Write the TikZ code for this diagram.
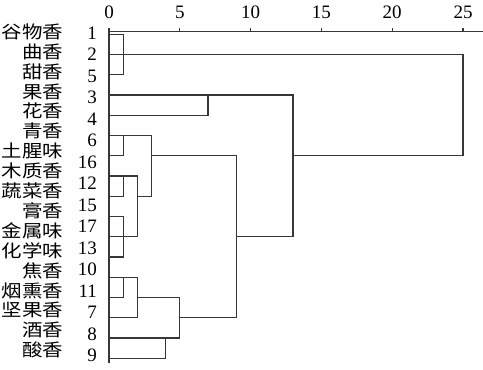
\documentclass[tikz,border=0pt]{standalone}
\usepackage{fontspec}
\setmainfont{Liberation Serif}
\newfontfamily\cjk[FakeStretch=1.17]{Noto Sans CJK SC}
\definecolor{ln}{RGB}{55,55,55}
\begin{document}
\begin{tikzpicture}[x=1pt,y=-1pt,
  dl/.style={draw=ln,line width=1.35pt,line cap=rect},
  num/.style={font=\fontsize{19}{20}\selectfont,inner sep=0pt,anchor=base east},
  cn/.style={font=\cjk\fontsize{17.5}{18}\selectfont,inner sep=0pt,anchor=base east},
  axn/.style={font=\fontsize{19}{20}\selectfont,inner sep=0pt,anchor=base}]
\useasboundingbox (0,0) rectangle (483,370);
% rows
\foreach \i in {0,...,16} \coordinate (r\i) at (109,{34.3+20.25*\i});
% merge distances
\coordinate (Xa) at (123.2,0);
\coordinate (Xb) at (137.3,0);
\coordinate (Xc) at (151.5,0);
\coordinate (Xd) at (165.6,0);
\coordinate (Xe) at (179.8,0);
\coordinate (Xf) at (208.1,0);
\coordinate (Xg) at (236.4,0);
\coordinate (Xh) at (293.1,0);
\coordinate (Xk) at (463,0);
% axis
\coordinate (axL) at (109,31.7);
\coordinate (axR) at (483,31.7);
\coordinate (axB) at (109,362);
\draw[dl] (axR) -- (axL) -- (axB);
\foreach \v [count=\k from 0] in {0,5,10,15,20,25}{
  \coordinate (t\k) at ({109+14.16*\v},31.7);
  \draw[dl] (t\k) -- ++(0,-3);
  \node[axn] (tl\k) at ({109+14.16*\v},18.4) {\v};
}
% leaf lines
\draw[dl] (r0) -- (r0 -| Xa);
\draw[dl] (r1) -- (r1 -| Xk);
\draw[dl] (r2) -- (r2 -| Xa);
\draw[dl] (r3) -- (r3 -| Xh);
\draw[dl] (r4) -- (r4 -| Xf);
\draw[dl] (r5) -- (r5 -| Xc);
\draw[dl] (r6) -- (r6 -| Xa);
\draw[dl] (r7) -- (r7 -| Xb);
\draw[dl] (r8) -- (r8 -| Xa);
\draw[dl] (r9) -- (r9 -| Xa);
\draw[dl] (r10) -- (r10 -| Xb);
\draw[dl] (r11) -- (r11 -| Xa);
\draw[dl] (r12) -- (r12 -| Xb);
\draw[dl] (r13) -- (r13 -| Xa);
\draw[dl] (r14) -- (r14 -| Xb);
\draw[dl] (r15) -- (r15 -| Xe);
\draw[dl] (r16) -- (r16 -| Xd);
% vertical joins
\draw[dl] (r0 -| Xa) -- (r2 -| Xa);
\draw[dl] (r3 -| Xf) -- (r4 -| Xf);
\draw[dl] (r5 -| Xa) -- (r6 -| Xa);
\draw[dl] (r7 -| Xa) -- (r8 -| Xa);
\draw[dl] (r9 -| Xa) -- (r11 -| Xa);
\draw[dl] (r12 -| Xa) -- (r13 -| Xa);
\draw[dl] (r15 -| Xd) -- (r16 -| Xd);
\draw[dl] (r7 -| Xb) -- (r10 -| Xb);
\draw[dl] (r12 -| Xb) -- (r14 -| Xb);
\draw[dl] (r5 -| Xc) -- (r8 -| Xc);
\draw[dl] (r13 -| Xe) -- (r15 -| Xe);
\draw[dl] (r6 -| Xg) -- (r14 -| Xg);
\draw[dl] (r3 -| Xh) -- (r10 -| Xh);
\draw[dl] (r1 -| Xk) -- (r6 -| Xk);
% cluster connectors
\draw[dl] (r8 -| Xb) -- (r8 -| Xc);
\draw[dl] (r13 -| Xb) -- (r13 -| Xe);
\draw[dl] (r6 -| Xc) -- (r6 -| Xg);
\draw[dl] (r14 -| Xe) -- (r14 -| Xg);
\draw[dl] (r10 -| Xg) -- (r10 -| Xh);
\draw[dl] (r6 -| Xh) -- (r6 -| Xk);
% case numbers
\foreach \n [count=\k from 0] in {1,2,5,3,4,6,16,12,15,17,13,10,11,7,8,9}
  \node[num] (n\k) at (97,{32.7+21.5*\k+6.4}) {\n};
% names
\foreach \t [count=\k from 0] in {谷物香,曲香,甜香,果香,花香,青香,土腥味,木质香,蔬菜香,膏香,金属味,化学味,焦香,烟熏香,坚果香,酒香,酸香}
  \node[cn] (c\k) at (63.5,{31.7+19.9*\k+6.6}) {\t};
\end{tikzpicture}
\end{document}
